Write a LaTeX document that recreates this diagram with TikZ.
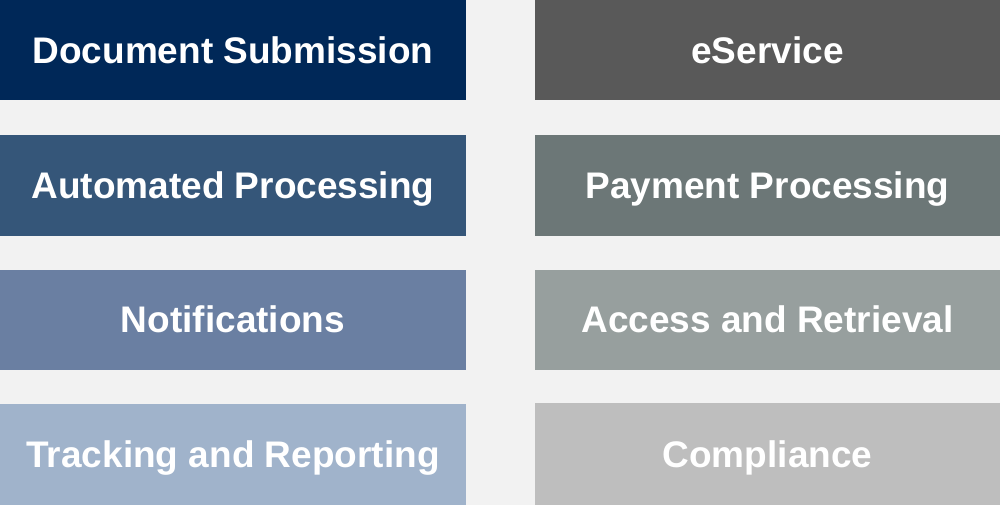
\documentclass[tikz,border=0pt]{standalone}
\usepackage{fontspec}
\setmainfont{Liberation Sans}
\definecolor{bgc}{HTML}{F2F2F2}
\definecolor{l1}{HTML}{002858}
\definecolor{l2}{HTML}{355679}
\definecolor{l3}{HTML}{6A7FA2}
\definecolor{l4}{HTML}{A0B3CB}
\definecolor{r1}{HTML}{595959}
\definecolor{r2}{HTML}{6C7777}
\definecolor{r3}{HTML}{979F9E}
\definecolor{r4}{HTML}{BEBEBE}
\begin{document}
\begin{tikzpicture}[x=1pt,y=-1pt,
  tile/.style={minimum width=466pt, minimum height=100.5pt, inner sep=0pt, outer sep=0pt,
    text height=26pt, text depth=0pt,
    text=white, font=\fontsize{37}{40}\selectfont\bfseries, anchor=north west}]
\fill[bgc] (0,0) rectangle (1000,505);
\useasboundingbox (0,0) rectangle (1000,505);
% left column
\node[tile, fill=l1] (docsub) at (0,0) {Document Submission};
\node[tile, fill=l2] (autoproc) at (0,135) {Automated Processing};
\node[tile, fill=l3] (notif) at (0,269.5) {Notifications};
\node[tile, fill=l4] (track) at (0,404) {Tracking and Reporting};
% right column
\node[tile, minimum width=465pt, fill=r1] (eserv) at (535,0) {eService};
\node[tile, minimum width=465pt, fill=r2] (payproc) at (535,135) {Payment Processing};
\node[tile, minimum width=465pt, fill=r3] (access) at (535,269.5) {Access and Retrieval};
\node[tile, minimum width=465pt, minimum height=102pt, fill=r4] (compl) at (535,403) {Compliance};
\end{tikzpicture}
\end{document}
